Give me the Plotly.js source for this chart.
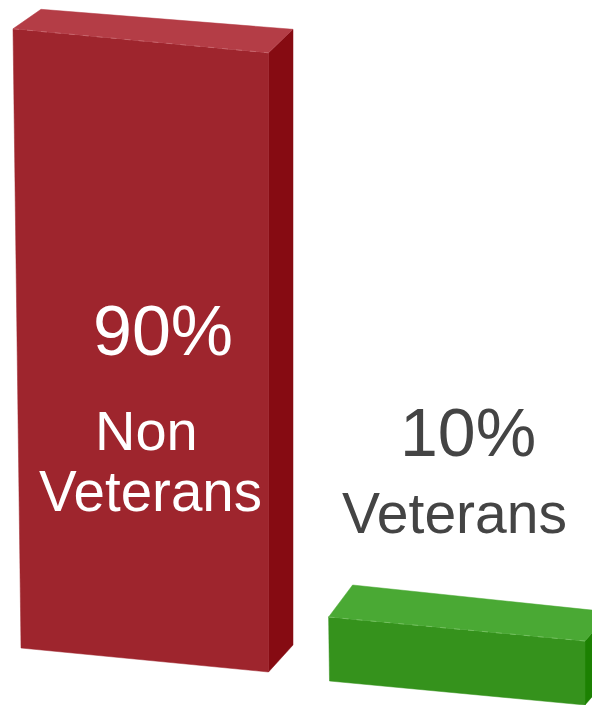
<!DOCTYPE html>
<html>
<head>
<meta charset="utf-8">
<script src="https://cdn.plot.ly/plotly-3.0.1.min.js"></script>
<style>html,body{margin:0;padding:0;background:#fff;overflow:hidden}</style>
</head>
<body>
<div id="chart" style="width:592px;height:705px"></div>
<script>
// Data
const categories = ["Non Veterans", "Veterans"];
const shares = [90, 10];
const textColors = ["#ffffff", "#444444"];

// Layout of the drawing (axis: x in pixels, y in value units)
const W = 592, H = 705, PX_PER_UNIT = 6.94, HEIGHT_OFFSET = 5.4;
const yRangeTop = H / PX_PER_UNIT;
const toY = px => (H - px) / PX_PER_UNIT;

const barGeom = [
  {left: 21, right: 268.5, baseL: 648, baseR: 672, lean: 8 / 90,
   depthL: [28, 19.5], depthR: [24.5, 23.5], depthB: [24.5, 27],
   front: "#9e252d", top: "#b43d46", side: "#860b12", edge: "#c7656c"},
  {left: 329.5, right: 585, baseL: 681, baseR: 705, lean: 0.09,
   depthL: [24, 32], depthR: [25, 29], depthB: [25, 29],
   front: "#35921c", top: "#4aa934", side: "#1c8102", edge: "#74c060"}
];

const traces = [];
function poly(pts, color) {
  traces.push({
    type: "scatter", mode: "lines", fill: "toself", fillcolor: color,
    x: pts.map(p => p[0]), y: pts.map(p => toY(p[1])),
    line: {width: 0.5, color: color}, hoverinfo: "skip", showlegend: false
  });
}

shares.forEach((v, i) => {
  const g = barGeom[i];
  const h = v * PX_PER_UNIT - HEIGHT_OFFSET;
  const tl = [g.left - v * g.lean, g.baseL - h];
  const tr = [g.right, g.baseR - h];
  const bl = [g.left, g.baseL];
  const br = [g.right, g.baseR];
  const btl = [tl[0] + g.depthL[0], tl[1] - g.depthL[1]];
  const btr = [tr[0] + g.depthR[0], tr[1] - g.depthR[1]];
  const bbr = [br[0] + g.depthB[0], br[1] - g.depthB[1]];
  poly([tr, btr, bbr, br, tr], g.side);
  poly([tl, tr, br, bl, tl], g.front);
  poly([tl, btl, btr, tr, tl], g.top);
  traces.push({
    type: "scatter", mode: "lines",
    x: [tl[0], tr[0]], y: [toY(tl[1]), toY(tr[1])],
    line: {width: 1, color: g.edge, dash: "6px 8px"},
    hoverinfo: "skip", showlegend: false
  });
});

const font = (size, color) => ({family: "Liberation Sans, Arial, sans-serif", size, color});
const note = (text, x, yPx, size, color) => ({
  text, x, y: toY(yPx), xref: "x", yref: "y", showarrow: false,
  xanchor: "center", yanchor: "middle", font: font(size, color)
});
const annotations = [
  note(shares[0] + "%", 162.5, 331, 70, textColors[0]),
  note(categories[0].split(" ")[0], 146.5, 430, 56, textColors[0]),
  note(categories[0].split(" ")[1], 150, 491, 56.5, textColors[0]),
  note(shares[1] + "%", 467.5, 432, 68, textColors[1]),
  note(categories[1], 454, 513, 57, textColors[1])
];

Plotly.newPlot("chart", traces, {
  width: W, height: H,
  margin: {l: 0, r: 0, t: 0, b: 0, pad: 0},
  paper_bgcolor: "#ffffff", plot_bgcolor: "#ffffff",
  showlegend: false,
  xaxis: {range: [0, W], visible: false, fixedrange: true},
  yaxis: {range: [0, yRangeTop], visible: false, fixedrange: true},
  annotations
}, {displayModeBar: false, staticPlot: true});
</script>
</body>
</html>
